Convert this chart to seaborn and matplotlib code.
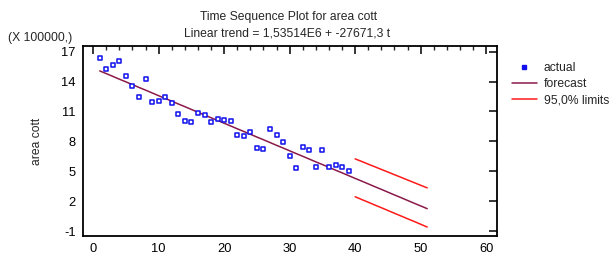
import numpy as np
import pandas as pd
import matplotlib
matplotlib.use("Agg")
import matplotlib.pyplot as plt
from matplotlib.ticker import MultipleLocator
from matplotlib.lines import Line2D
import seaborn as sns

# ---- data (values in units of 100000) ----
t_actual = list(range(1, 40))
actual = [16.37, 15.27, 15.64, 16.04, 14.54, 13.60, 12.50, 14.30, 11.94, 12.04,
          12.50, 11.87, 10.77, 10.04, 9.90, 10.87, 10.67, 9.90, 10.20, 10.10,
          10.04, 8.64, 8.50, 8.94, 7.34, 7.22, 9.27, 8.64, 7.96, 6.57,
          5.30, 7.44, 7.10, 5.40, 7.10, 5.40, 5.60, 5.40, 5.07]

t_forecast = list(range(1, 52))
forecast = [15.07, 14.80, 14.52, 14.24, 13.97, 13.69, 13.41, 13.14, 12.86, 12.58,
            12.31, 12.03, 11.75, 11.48, 11.20, 10.92, 10.64, 10.37, 10.09, 9.82,
            9.54, 9.26, 8.99, 8.71, 8.43, 8.16, 7.88, 7.60, 7.33, 7.05,
            6.77, 6.50, 6.22, 5.94, 5.67, 5.39, 5.11, 4.84, 4.56, 4.28,
            4.01, 3.73, 3.45, 3.18, 2.90, 2.62, 2.35, 2.07, 1.79, 1.52, 1.24]

t_limits = list(range(40, 52))
upper = [6.24, 5.98, 5.71, 5.45, 5.18, 4.92, 4.65, 4.39, 4.12, 3.86, 3.59, 3.33]
lower = [2.44, 2.16, 1.89, 1.61, 1.34, 1.06, 0.78, 0.51, 0.23, -0.04, -0.32, -0.60]

x_ticks = [0, 10, 20, 30, 40, 50, 60]
y_ticks = [-1, 2, 5, 8, 11, 14, 17]

title1 = "Time Sequence Plot for area cott"
title2 = "Linear trend = 1,53514E6 + -27671,3 t"
scale_label = "(X 100000,)"
y_label = "area cott"

# ---- style ----
sns.set_style("white")
plt.rcParams['font.family'] = ['Liberation Sans', 'DejaVu Sans']
plt.rcParams['axes.unicode_minus'] = False
FS = 8.75

W, H = 613, 254
fig = plt.figure(figsize=(W / 100, H / 100), dpi=100)
ax = fig.add_axes([82.7 / W, 1 - 236 / H, (497.3 - 82.7) / W, (236 - 46) / H])

df_act = pd.DataFrame({"t": t_actual, "v": actual})
df_fc = pd.DataFrame({"t": t_forecast, "v": forecast})
df_lim = pd.DataFrame({"t": t_limits, "up": upper, "lo": lower})

maroon = "#8B1A4A"
red = "#FF1A1A"
blue = "#1010EE"

sns.lineplot(data=df_fc, x="t", y="v", ax=ax, color=maroon, linewidth=1.1)
sns.lineplot(data=df_lim, x="t", y="up", ax=ax, color=red, linewidth=1.1)
sns.lineplot(data=df_lim, x="t", y="lo", ax=ax, color=red, linewidth=1.1)
sns.scatterplot(data=df_act, x="t", y="v", ax=ax, marker="s", s=11,
                facecolor="white", edgecolor=blue, linewidth=1.1, zorder=5)

ax.set_xlim(-1.6, 61.7)
ax.set_ylim(-1.5, 17.57)
ax.set_xticks(x_ticks)
ax.set_yticks(y_ticks)
ax.xaxis.set_minor_locator(MultipleLocator(2))
ax.tick_params(which="major", direction="in", length=6, width=1.1,
               top=True, right=True, labelsize=FS + 0.5, colors="black", pad=5)
ax.tick_params(which="minor", direction="in", length=3, width=1.0,
               top=True, right=False, left=False)
ax.tick_params(axis="y", which="minor", left=False, right=False)
ax.set_xlabel("")
ax.set_ylabel(y_label, fontsize=FS, labelpad=13)
for s in ax.spines.values():
    s.set_visible(True)
    s.set_color("black")
    s.set_linewidth(1.3)

fig.text(289 / W, 1 - 17 / H, title1, ha="center", va="center", fontsize=FS)
fig.text(287 / W, 1 - 33.5 / H, title2, ha="center", va="center", fontsize=FS)
fig.text(8 / W, 1 - 38 / H, scale_label, ha="left", va="center", fontsize=FS)

handles = [
    Line2D([], [], marker="s", linestyle="none", markersize=2.6,
           markerfacecolor=blue, markeredgecolor=blue),
    Line2D([], [], color=maroon, linewidth=1.1),
    Line2D([], [], color=red, linewidth=1.1),
]
fig.legend(handles, ["actual", "forecast", "95,0% limits"],
           loc="upper left", bbox_to_anchor=(512 / W, 1 - 62 / H),
           frameon=False, fontsize=FS, handlelength=2.05, handletextpad=0.55,
           labelspacing=0.33, borderaxespad=0, borderpad=0)

fig.savefig("out.png", dpi=100)
